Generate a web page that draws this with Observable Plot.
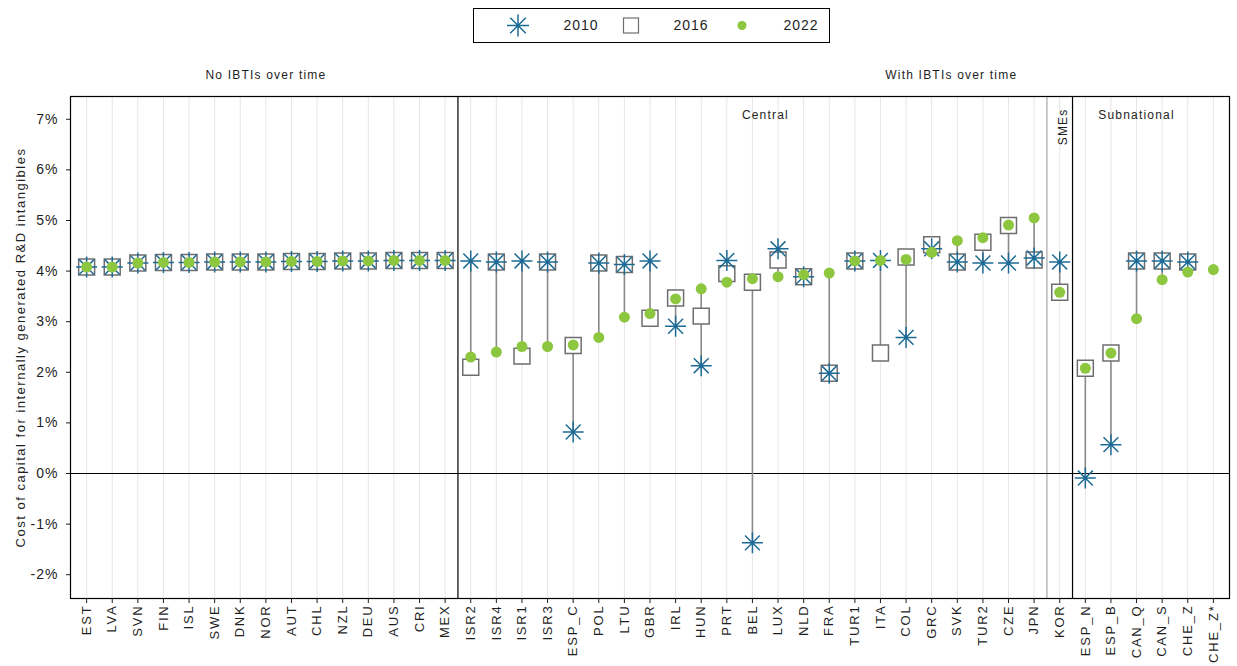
<!DOCTYPE html>
<html>
<head>
<meta charset="utf-8">
<script src="https://cdn.jsdelivr.net/npm/d3@7"></script>
<script src="https://cdn.jsdelivr.net/npm/@observablehq/plot@0.6"></script>
<style>
  body { margin: 0; background: #fff; font-family: "Liberation Sans", Arial, sans-serif; }
  #legend { position: relative; height: 50px; }
  #legend svg { position: absolute; left: 473px; top: 8px; }
  #chart svg { display: block; }
</style>
</head>
<body>
<div id="legend"></div>
<div id="chart"></div>
<script>
// Jurisdictions, in display order
const countries = [
  "EST","LVA","SVN","FIN","ISL","SWE","DNK","NOR","AUT","CHL","NZL","DEU","AUS","CRI","MEX",
  "ISR2","ISR4","ISR1","ISR3","ESP_C","POL","LTU","GBR","IRL","HUN","PRT","BEL","LUX","NLD",
  "FRA","TUR1","ITA","COL","GRC","SVK","TUR2","CZE","JPN",
  "KOR",
  "ESP_N","ESP_B","CAN_Q","CAN_S","CHE_Z","CHE_Z*"
];

// Cost of capital (%) by year
const v2010 = [
  4.08,4.08,4.16,4.17,4.17,4.18,4.18,4.18,4.19,4.19,4.20,4.20,4.21,4.21,4.21,
  4.20,4.18,4.20,4.18,0.82,4.16,4.13,4.20,2.91,2.13,4.21,-1.37,4.44,3.89,
  1.98,4.20,4.21,2.69,4.44,4.18,4.16,4.16,4.26,
  4.18,
  -0.09,0.57,4.20,4.20,4.18,null
];
const v2016 = [
  4.08,4.08,4.16,4.17,4.17,4.18,4.18,4.18,4.19,4.19,4.20,4.20,4.21,4.21,4.21,
  2.10,4.18,2.32,4.18,2.53,4.16,4.13,3.07,3.47,3.11,3.95,3.78,4.22,3.89,
  1.98,4.20,2.38,4.28,4.52,4.18,4.57,4.90,4.22,
  3.58,
  2.08,2.38,4.20,4.20,4.18,null
];
const v2022 = [
  4.08,4.08,4.16,4.17,4.17,4.18,4.18,4.18,4.19,4.19,4.20,4.20,4.21,4.21,4.21,
  2.30,2.40,2.51,2.51,2.54,2.69,3.09,3.16,3.45,3.65,3.78,3.85,3.89,3.93,
  3.96,4.20,4.21,4.23,4.37,4.60,4.66,4.91,5.05,
  3.58,
  2.08,2.38,3.06,3.83,3.98,4.03
];

const yTicks = [-2,-1,0,1,2,3,4,5,6,7];
const seriesNames = ["2010","2016","2022"];
const yTitle = "Cost of capital for internally generated R&D intangibles";

const colors = { c2010: "#1d6b95", c2016: "#6e6e6e", c2022: "#8dc63f" };

// 8-spoke asterisk symbol
const asterisk8 = {
  draw(ctx, size) {
    const r = Math.sqrt(size / Math.PI);
    const d = r * Math.SQRT1_2;
    ctx.moveTo(-r, 0); ctx.lineTo(r, 0);
    ctx.moveTo(0, -r); ctx.lineTo(0, r);
    ctx.moveTo(-d, -d); ctx.lineTo(d, d);
    ctx.moveTo(-d, d); ctx.lineTo(d, -d);
  }
};

const rows = countries.map((c, i) => ({c, a: v2010[i], b: v2016[i], g: v2022[i]}));
const ranges = rows.map(r => {
  const vals = [r.a, r.b, r.g].filter(v => v != null);
  return {c: r.c, lo: d3.min(vals), hi: d3.max(vals)};
});

const width = 1237, height = 616;
const marginLeft = 70, marginRight = 8, marginTop = 46, marginBottom = 68;
const padding = 0.63;
const step = (width - marginLeft - marginRight) / (countries.length - 1 + 2 * padding);
const half = step / 2;

const font = "Liberation Sans, Arial, sans-serif";
const ink = "#1e1e1e";

const chart = Plot.plot({
  width, height, marginLeft, marginRight, marginTop, marginBottom,
  style: { fontFamily: font, fontSize: "12px", color: ink, background: "#fff" },
  x: { type: "point", domain: countries, padding, round: false, label: null },
  y: { domain: [-2.47, 7.45], label: null },
  marks: [
    Plot.ruleX(countries, { x: d => d, stroke: "#e6e6e6", strokeWidth: 1 }),
    Plot.ruleX(["JPN"], { x: d => d, dx: half, stroke: "#a6a6a6", strokeWidth: 1.2 }),
    Plot.ruleX(["MEX", "KOR"], { x: d => d, dx: half, stroke: "#000", strokeWidth: 1.2 }),
    Plot.ruleY([0], { stroke: "#000", strokeWidth: 1.2 }),
    Plot.frame({ stroke: "#000", strokeWidth: 1.2 }),
    Plot.axisY({
      ticks: yTicks, tickFormat: d => d + "%", tickSize: 4, tickPadding: 8,
      fontSize: 14, label: null
    }),
    Plot.axisX({ tickRotate: -90, tickSize: 5, tickPadding: 1, fontSize: 13, label: null }),
    Plot.text([yTitle], {
      frameAnchor: "left", textAnchor: "middle",
      dx: -50, rotate: -90, fontSize: 13, fill: ink
    }),
    Plot.text(["No IBTIs over time"], { x: ["NOR"], frameAnchor: "top", dy: -26, fontSize: 12, fill: ink }),
    Plot.text(["With IBTIs over time"], { x: ["SVK"], frameAnchor: "top", dx: -6, dy: -26, fontSize: 12, fill: ink }),
    Plot.text(["Central"], { x: ["BEL"], frameAnchor: "top", dx: 13, dy: 14, fontSize: 12, fill: ink }),
    Plot.text(["Subnational"], { x: ["CAN_Q"], frameAnchor: "top", dx: 0, dy: 14, fontSize: 12, fill: ink }),
    Plot.text(["SMEs"], {
      x: ["KOR"], frameAnchor: "top", dy: 12, dx: -1.5, rotate: -90, textAnchor: "end",
      fontSize: 12, fill: ink
    }),
    Plot.ruleX(ranges, { x: "c", y1: "lo", y2: "hi", stroke: "#8a8a8a", strokeWidth: 1.6 }),
    Plot.dot(rows.filter(r => r.b != null), {
      x: "c", y: "b", symbol: "square", r: 9, fill: "#fff", stroke: colors.c2016, strokeWidth: 1.5
    }),
    Plot.dot(rows.filter(r => r.a != null), {
      x: "c", y: "a", symbol: asterisk8, r: 10.5, fill: "none", stroke: colors.c2010, strokeWidth: 1.5
    }),
    Plot.dot(rows.filter(r => r.g != null), {
      x: "c", y: "g", r: 5.5, fill: colors.c2022, stroke: "none"
    })
  ]
});

// Wider letter spacing for the chart's texts
const svg = d3.select(chart);
svg.selectAll('g[aria-label="x-axis tick label"] text').style("letter-spacing", "1.8px");
svg.selectAll('g[aria-label="y-axis tick label"] text').style("letter-spacing", "1px");
svg.selectAll('g[aria-label="text"] text').style("letter-spacing", "1.2px");
svg.selectAll('g[aria-label="text"] text').filter(function () { return this.textContent === yTitle; })
  .style("letter-spacing", "1.5px");
document.getElementById("chart").appendChild(chart);

// Legend
const lg = d3.select("#legend").append("svg").attr("width", 357).attr("height", 35)
  .style("font-family", font).style("font-size", "14px").style("letter-spacing", "1px");
lg.append("rect").attr("x", 0.5).attr("y", 0.5).attr("width", 356).attr("height", 34)
  .attr("fill", "#fff").attr("stroke", "#000");
const items = [
  { name: seriesNames[0], sx: 45, tx: 108 },
  { name: seriesNames[1], sx: 158, tx: 218 },
  { name: seriesNames[2], sx: 269, tx: 328 }
];
const ast = d3.symbol(asterisk8, Math.PI * 11 * 11)();
lg.append("path").attr("d", ast).attr("transform", `translate(${items[0].sx},17.5)`)
  .attr("fill", "none").attr("stroke", colors.c2010).attr("stroke-width", 1.5);
lg.append("rect").attr("x", items[1].sx - 7.5).attr("y", 10).attr("width", 15).attr("height", 15)
  .attr("fill", "#fff").attr("stroke", colors.c2016).attr("stroke-width", 1.2);
lg.append("circle").attr("cx", items[2].sx).attr("cy", 17.5).attr("r", 4.5).attr("fill", colors.c2022);
items.forEach(it => {
  lg.append("text").attr("x", it.tx).attr("y", 17.5).attr("dy", "0.35em")
    .attr("text-anchor", "middle").attr("fill", ink).text(it.name);
});
</script>
</body>
</html>
